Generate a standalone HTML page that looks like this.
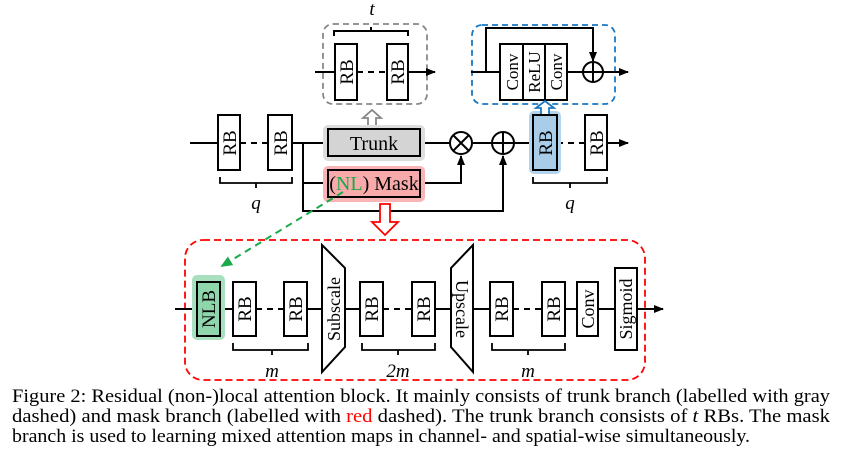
<!DOCTYPE html>
<html><head><meta charset="utf-8"><style>
html,body{margin:0;padding:0;background:#fff;}
svg{display:block;}
text{font-family:"Liberation Serif",serif;}
</style></head><body>
<svg width="842" height="469" viewBox="0 0 842 469" xmlns="http://www.w3.org/2000/svg">
<defs>
<marker id="ah" markerWidth="10" markerHeight="8" refX="9" refY="4" orient="auto" markerUnits="userSpaceOnUse"><path d="M0,0 L10,4 L0,8 Z" fill="#000"/></marker>
<marker id="ag" markerWidth="12" markerHeight="10" refX="10" refY="5" orient="auto" markerUnits="userSpaceOnUse"><path d="M0,0 L12,5 L0,10 Z" fill="#1aaa4a"/></marker>
</defs>
<g stroke="#000" stroke-width="2" fill="none">
<rect x="323" y="24" width="104" height="80" rx="10" stroke="#888" stroke-dasharray="6,4" stroke-width="1.8"/>
<path d="M334,36 V31 H408 V36 M371,31 V27"/>
<line x1="315" y1="72" x2="335" y2="72"/>
<line x1="357" y1="72" x2="387" y2="72" stroke-dasharray="6,5"/>
<line x1="408" y1="72" x2="435" y2="72" marker-end="url(#ah)"/>
<rect x="335" y="44" width="22" height="56" fill="#fff"/>
<rect x="387" y="44" width="21" height="56" fill="#fff"/>
<rect x="472" y="25" width="143" height="79" rx="10" stroke="#1a78c2" stroke-dasharray="6,4" stroke-width="1.8"/>
<line x1="471" y1="72" x2="500" y2="72"/>
<line x1="567" y1="72" x2="583" y2="72"/>
<line x1="603" y1="72" x2="628" y2="72" marker-end="url(#ah)"/>
<path d="M486,72 V28 H593 V61" marker-end="url(#ah)"/>
<circle cx="593" cy="72" r="10"/>
<path d="M583,72 H603 M593,62 V82"/>
<rect x="500" y="44" width="23" height="56" fill="#fff"/>
<rect x="523" y="44" width="22" height="56" fill="#fff"/>
<rect x="545" y="44" width="22" height="56" fill="#fff"/>
<line x1="190" y1="143" x2="218" y2="143"/>
<line x1="240" y1="143" x2="268" y2="143" stroke-dasharray="6,5"/>
<line x1="292" y1="143" x2="328" y2="143"/>
<line x1="420" y1="143" x2="450" y2="143"/>
<line x1="472" y1="143" x2="492" y2="143"/>
<line x1="514" y1="143" x2="533" y2="143"/>
<line x1="557" y1="143" x2="585" y2="143" stroke-dasharray="6,5"/>
<line x1="607" y1="143" x2="628" y2="143" marker-end="url(#ah)"/>
<path d="M303,143 V211 H503 V156" marker-end="url(#ah)"/>
<path d="M303,183 H328"/>
<path d="M420,183 H461 V156" marker-end="url(#ah)"/>
<circle cx="461" cy="143" r="11"/>
<path d="M453,135 L469,151 M469,135 L453,151"/>
<circle cx="503" cy="143" r="11"/>
<path d="M492,143 H514 M503,132 V154"/>
<rect x="323" y="125" width="102" height="36" rx="5" fill="#ddd" stroke="none"/>
<rect x="328" y="129" width="92" height="27" fill="#d4d4d4"/>
<rect x="323" y="166" width="102" height="36" rx="5" fill="#f9b5b5" stroke="none"/>
<rect x="328" y="170" width="92" height="27" fill="#f8aaaa"/>
<rect x="529" y="111" width="32" height="63" rx="5" fill="#b4d3ec" stroke="none"/>
<rect x="533" y="115" width="24" height="55" fill="#a9cde9"/>
<rect x="218" y="115" width="22" height="55" fill="#fff"/>
<rect x="268" y="115" width="24" height="55" fill="#fff"/>
<rect x="585" y="115" width="22" height="55" fill="#fff"/>
<path d="M220,177 V183 H292 V177 M256,183 V188" stroke-width="1.8"/>
<path d="M533,177 V183 H607 V177 M570,183 V188" stroke-width="1.8"/>
<path d="M368,125 V118 H363 L372,110 L381,118 H376 V125" stroke="#888" stroke-width="1.8" fill="#fff"/>
<path d="M541,114 V108 H536 L545,101 L554,108 H549 V114" stroke="#1a78c2" stroke-width="1.8" fill="#fff"/>
<path d="M380,204 V222 H372 L385,235 L398,222 H390 V204 Z" stroke="#f00" stroke-width="1.8" fill="#fff"/>
<line x1="343" y1="192" x2="222" y2="266" stroke="#1aaa4a" stroke-dasharray="7,5" marker-end="url(#ag)"/>
<rect x="185" y="240" width="460" height="140" rx="18" stroke="#f00" stroke-dasharray="7,4" stroke-width="1.8"/>
<line x1="175" y1="309" x2="233" y2="309"/>
<line x1="256" y1="309" x2="284" y2="309" stroke-dasharray="6,5"/>
<line x1="307" y1="309" x2="360" y2="309"/>
<line x1="383" y1="309" x2="412" y2="309" stroke-dasharray="6,5"/>
<line x1="435" y1="309" x2="490" y2="309"/>
<line x1="513" y1="309" x2="542" y2="309" stroke-dasharray="6,5"/>
<line x1="565" y1="309" x2="663" y2="309" marker-end="url(#ah)"/>
<rect x="192" y="275" width="33" height="65" rx="5" fill="#a8e0bf" stroke="none"/>
<rect x="197" y="282" width="23" height="54" fill="#8fd6ad"/>
<rect x="233" y="282" width="23" height="54" fill="#fff"/>
<rect x="284" y="282" width="23" height="54" fill="#fff"/>
<path d="M322,245 L345,268 V347 L322,372 Z" fill="#fff"/>
<rect x="360" y="282" width="23" height="54" fill="#fff"/>
<rect x="412" y="282" width="23" height="54" fill="#fff"/>
<path d="M473,245 L451,268 V347 L473,372 Z" fill="#fff"/>
<rect x="490" y="282" width="23" height="54" fill="#fff"/>
<rect x="542" y="282" width="23" height="54" fill="#fff"/>
<rect x="577" y="282" width="21" height="54" fill="#fff"/>
<rect x="615" y="268" width="22" height="82" fill="#fff"/>
<path d="M233,343 V350 H308 V343 M272,350 V355" stroke-width="1.8"/>
<path d="M362,343 V350 H435 V343 M398,350 V355" stroke-width="1.8"/>
<path d="M492,343 V350 H565 V343 M528,350 V355" stroke-width="1.8"/>
</g>
<g font-size="19" fill="#000" text-anchor="middle">
<text x="372" y="15" font-style="italic">t</text>
<text x="256" y="209" font-style="italic">q</text>
<text x="570" y="209" font-style="italic">q</text>
<text x="272" y="377" font-style="italic">m</text>
<text x="398" y="377" font-style="italic">2m</text>
<text x="528" y="377" font-style="italic">m</text>
<text x="374" y="150" font-size="20">Trunk</text>
<text x="374" y="190" font-size="20"><tspan>(</tspan><tspan fill="#1aaa4a">NL</tspan><tspan>) Mask</tspan></text>
</g>
<g font-size="19" fill="#000" text-anchor="middle">
<text transform="translate(353,72) rotate(-90)">RB</text>
<text transform="translate(404,72) rotate(-90)">RB</text>
<text transform="translate(518,72) rotate(-90)" font-size="17">Conv</text>
<text transform="translate(540,72) rotate(-90)" font-size="17">ReLU</text>
<text transform="translate(562,72) rotate(-90)" font-size="17">Conv</text>
<text transform="translate(236,143) rotate(-90)">RB</text>
<text transform="translate(287,143) rotate(-90)">RB</text>
<text transform="translate(552,143) rotate(-90)">RB</text>
<text transform="translate(603,143) rotate(-90)">RB</text>
<text transform="translate(215,309) rotate(-90)">NLB</text>
<text transform="translate(251,309) rotate(-90)">RB</text>
<text transform="translate(302,309) rotate(-90)">RB</text>
<text transform="translate(340,309) rotate(-90)" font-size="18">Subscale</text>
<text transform="translate(378,309) rotate(-90)">RB</text>
<text transform="translate(430,309) rotate(-90)">RB</text>
<text transform="translate(456,309) rotate(90)" font-size="18">Upscale</text>
<text transform="translate(508,309) rotate(-90)">RB</text>
<text transform="translate(560,309) rotate(-90)">RB</text>
<text transform="translate(594,309) rotate(-90)" font-size="18">Conv</text>
<text transform="translate(632,309) rotate(-90)" font-size="18">Sigmoid</text>
</g>
<g font-size="19" fill="#000">
<text x="12" y="402" textLength="818" lengthAdjust="spacingAndGlyphs">Figure 2: Residual (non-)local attention block. It mainly consists of trunk branch (labelled with gray</text>
<text x="12" y="422" textLength="818" lengthAdjust="spacingAndGlyphs">dashed) and mask branch (labelled with <tspan fill="#f00">red</tspan> dashed). The trunk branch consists of <tspan font-style="italic">t</tspan> RBs. The mask</text>
<text x="12" y="442" textLength="738" lengthAdjust="spacingAndGlyphs">branch is used to learning mixed attention maps in channel- and spatial-wise simultaneously.</text>
</g>
</svg>
</body></html>
